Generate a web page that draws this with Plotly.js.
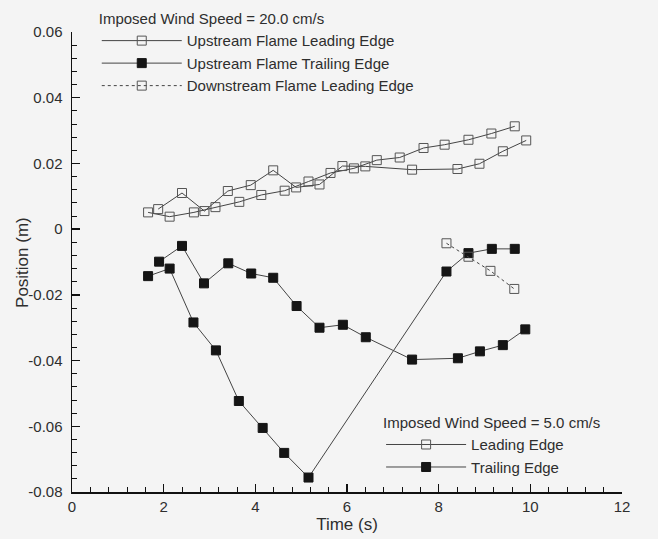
<!DOCTYPE html>
<html>
<head>
<meta charset="utf-8">
<script src="https://cdn.plot.ly/plotly-3.0.1.min.js"></script>
<style>html,body{margin:0;padding:0;background:#f4f4f4;}#chart{width:658px;height:539px;}</style>
</head>
<body>
<div id="chart"></div>
<script>
// Wind speed 20.0 cm/s
const upLeadT = [1.66, 2.13, 2.66, 3.13, 3.65, 4.13, 4.64, 5.16, 5.64, 6.15, 6.65, 7.15, 7.67, 8.13, 8.65, 9.15, 9.66];
const upLeadY = [0.0051, 0.0038, 0.0051, 0.0067, 0.0083, 0.0104, 0.0117, 0.0145, 0.0171, 0.0185, 0.0210, 0.0218, 0.0247, 0.0257, 0.0272, 0.0291, 0.0313];
const upTrailT = [1.66, 2.13, 2.65, 3.14, 3.64, 4.16, 4.63, 5.16, 8.17, 8.65, 9.16, 9.66];
const upTrailY = [-0.0143, -0.0120, -0.0284, -0.0369, -0.0523, -0.0605, -0.0681, -0.0756, -0.0129, -0.0073, -0.0060, -0.0060];
const downLeadT = [8.17, 8.65, 9.13, 9.65];
const downLeadY = [-0.0043, -0.0084, -0.0127, -0.0182];
// Wind speed 5.0 cm/s
const leadT = [1.88, 2.40, 2.89, 3.40, 3.90, 4.39, 4.89, 5.40, 5.90, 6.40, 7.42, 8.41, 8.89, 9.40, 9.91];
const leadY = [0.0061, 0.0110, 0.0055, 0.0116, 0.0134, 0.0179, 0.0127, 0.0136, 0.0192, 0.0191, 0.0181, 0.0183, 0.0199, 0.0237, 0.0270];
const trailT = [1.90, 2.40, 2.88, 3.41, 3.91, 4.39, 4.90, 5.40, 5.91, 6.41, 7.42, 8.42, 8.90, 9.40, 9.89];
const trailY = [-0.0099, -0.0051, -0.0165, -0.0104, -0.0135, -0.0148, -0.0234, -0.0300, -0.0291, -0.0329, -0.0397, -0.0393, -0.0372, -0.0353, -0.0305];

const xTicks = [0, 2, 4, 6, 8, 10, 12];
const xTickText = ['0', '2', '4', '6', '8', '10', '12'];
const yTicks = [-0.08, -0.06, -0.04, -0.02, 0, 0.02, 0.04, 0.06];
const yTickText = ['-0.08', '-0.06', '-0.04', '-0.02', '0', '0.02', '0.04', '0.06'];

const FONT = '"Liberation Sans", Arial, sans-serif';
const INK = '#2e2e2e';

function tr(name, x, y, filled, dash, legend) {
  return {
    type: 'scatter', mode: 'lines+markers', name: name, x: x, y: y,
    legend: legend,
    line: {color: '#444', width: 1, dash: dash},
    marker: {symbol: filled ? 'square' : 'square-open', size: 9,
             color: filled ? '#151515' : '#555',
             line: {color: filled ? '#151515' : '#555', width: 1}}
  };
}

const data = [
  tr('Upstream Flame Leading Edge', upLeadT, upLeadY, false, 'solid', 'legend'),
  tr('Upstream Flame Trailing Edge', upTrailT, upTrailY, true, 'solid', 'legend'),
  tr('Downstream Flame Leading Edge', downLeadT, downLeadY, false, 'dot', 'legend'),
  tr('Leading Edge', leadT, leadY, false, 'solid', 'legend2'),
  tr('Trailing Edge', trailT, trailY, true, 'solid', 'legend2')
];

const axisCommon = {
  showgrid: false, zeroline: false, showline: true, linecolor: '#111', linewidth: 1.5,
  ticks: 'inside', ticklen: 8, tickwidth: 1.5, tickcolor: '#111',
  tickfont: {family: FONT, size: 15, color: INK}
};

const layout = {
  width: 658, height: 539,
  margin: {l: 72, r: 36, t: 32, b: 47, autoexpand: false},
  paper_bgcolor: '#f4f4f4', plot_bgcolor: '#f4f4f4',
  font: {family: FONT, color: INK},
  showlegend: true,
  xaxis: Object.assign({}, axisCommon, {
    range: [0, 12], tickvals: xTicks, ticktext: xTickText,
    minor: {dtick: 0.4, ticks: 'inside', ticklen: 5, tickwidth: 1, tickcolor: '#111'},
    title: {text: 'Time (s)', font: {family: FONT, size: 17, color: INK}, standoff: 4}
  }),
  yaxis: Object.assign({}, axisCommon, {
    range: [-0.08, 0.06], tickvals: yTicks, ticktext: yTickText,
    ticklabelstandoff: 5,
    minor: {dtick: 0.004, ticks: 'inside', ticklen: 5, tickwidth: 1, tickcolor: '#111'}
  }),
  annotations: [{
    text: 'Position (m)', xref: 'paper', yref: 'paper', x: -0.091, y: 0.5,
    xanchor: 'center', yanchor: 'middle', textangle: -90, showarrow: false,
    font: {family: FONT, size: 17, color: INK}
  }],
  legend: {
    x: 0.045, y: 1.059, xanchor: 'left', yanchor: 'top',
    bgcolor: 'rgba(0,0,0,0)', itemwidth: 80, tracegroupgap: 0,
    font: {family: FONT, size: 15, color: INK},
    title: {text: 'Imposed Wind Speed = 20.0 cm/s', font: {family: FONT, size: 15, color: INK}}
  },
  legend2: {
    x: 0.562, y: 0.181, xanchor: 'left', yanchor: 'top',
    bgcolor: 'rgba(0,0,0,0)', itemwidth: 80,
    font: {family: FONT, size: 15, color: INK},
    title: {text: 'Imposed Wind Speed = 5.0 cm/s', font: {family: FONT, size: 15, color: INK}}
  }
};

Plotly.newPlot('chart', data, layout, {displayModeBar: false, staticPlot: true});
</script>
</body>
</html>
